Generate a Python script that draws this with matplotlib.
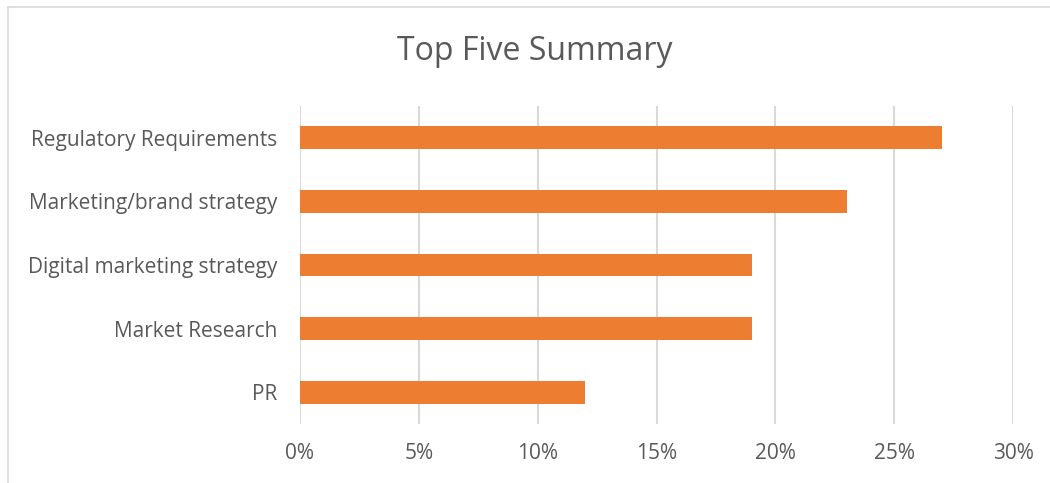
import matplotlib.pyplot as plt
from matplotlib.lines import Line2D
from matplotlib.ticker import FuncFormatter

categories = ['Regulatory Requirements', 'Marketing/brand strategy',
              'Digital marketing strategy', 'Market Research', 'PR']
values = [27, 23, 19, 19, 12]
xticks = [0, 5, 10, 15, 20, 25, 30]

plt.rcParams['font.family'] = ['Open Sans', 'DejaVu Sans']
text_color = '#595959'
grid_color = '#d9d9d9'

fig = plt.figure(figsize=(10.5, 4.83), dpi=100)
ax = fig.add_axes([300 / 1050, 1 - 424 / 483, 713 / 1050, 318 / 483])

# first category at the top
pos = list(range(len(categories)))[::-1]
ax.barh(pos, values, height=0.36, color='#ED7D31', zorder=3)

ax.set_xlim(0, 30)
ax.set_ylim(-0.5, len(categories) - 0.5)
ax.set_xticks(xticks)
ax.xaxis.set_major_formatter(FuncFormatter(lambda v, p: f'{v:.0f}%'))
ax.set_yticks(pos)
ax.set_yticklabels(categories)
ax.tick_params(axis='both', length=0, labelsize=15, colors=text_color)
ax.tick_params(axis='x', pad=14)
ax.tick_params(axis='y', pad=16.5)
ax.grid(axis='x', color=grid_color, linewidth=1.5, zorder=0)
for s in ax.spines.values():
    s.set_visible(False)

fig.text(535 / 1050, 1 - 52 / 483, 'Top Five Summary', ha='center', va='center',
         fontsize=23, color=text_color)

# chart area border (only top and left edges are in frame)
fig.add_artist(Line2D([8 / 1050, 1], [1 - 7 / 483] * 2, transform=fig.transFigure,
                      color=grid_color, linewidth=1.2))
fig.add_artist(Line2D([8 / 1050] * 2, [0, 1 - 7 / 483], transform=fig.transFigure,
                      color=grid_color, linewidth=1.2))

fig.savefig('out.png', dpi=100)
